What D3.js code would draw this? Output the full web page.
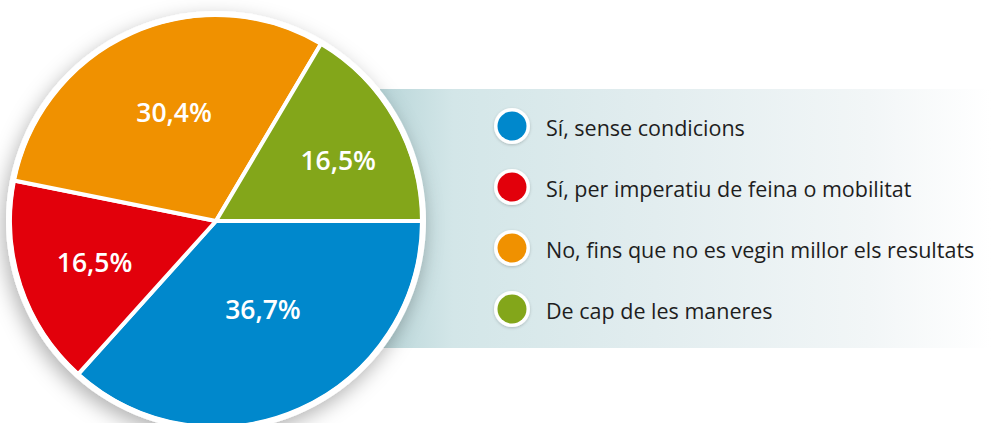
<!DOCTYPE html>
<html><head><meta charset="utf-8">
<script src="https://cdn.jsdelivr.net/npm/d3@7"></script>
<style>html,body{margin:0;padding:0;background:#fff;overflow:hidden}</style>
</head><body>
<svg id="chart" width="991" height="423"></svg>
<script>
const categories = ["Sí, sense condicions","Sí, per imperatiu de feina o mobilitat","No, fins que no es vegin millor els resultats","De cap de les maneres"];
const values = [36.7, 16.5, 30.4, 16.5];
const labels = ["36,7%","16,5%","30,4%","16,5%"];
const colors = ["#0088cc","#e2000b","#f09100","#83a61a"];

const svg = d3.select("#chart");
const defs = svg.append("defs");
const grad = defs.append("linearGradient").attr("id","panelGrad").attr("x1","0%").attr("x2","100%");
[[0,"#b9d6d9"],[0.12,"#d3e6e8"],[0.45,"#e2edef"],[0.8,"#f2f6f7"],[1,"#ffffff"]].forEach(([o,c])=>grad.append("stop").attr("offset",o).attr("stop-color",c));
const sh = defs.append("filter").attr("id","pieShadow").attr("x","-20%").attr("y","-20%").attr("width","140%").attr("height","140%");
sh.append("feDropShadow").attr("dx",-3).attr("dy",7).attr("stdDeviation",10).attr("flood-color","#000").attr("flood-opacity",0.3);
const sh2 = defs.append("filter").attr("id","dotShadow").attr("x","-50%").attr("y","-50%").attr("width","200%").attr("height","200%");
sh2.append("feDropShadow").attr("dx",0).attr("dy",1).attr("stdDeviation",1.5).attr("flood-color","#000").attr("flood-opacity",0.2);

// panel
svg.append("rect").attr("x",380).attr("y",89).attr("width",611).attr("height",259).attr("fill","url(#panelGrad)");

const cx = 216, cy = 221, r = 206;
const g = svg.append("g").attr("transform",`translate(${cx},${cy})`);
g.append("circle").attr("r",r+4).attr("fill","#fff").attr("filter","url(#pieShadow)");

const pie = d3.pie().sort(null).value(d=>d).startAngle(Math.PI/2).endAngle(Math.PI/2+2*Math.PI);
const arcs = pie(values);
const arc = d3.arc().innerRadius(0).outerRadius(r);
g.selectAll("path.slice").data(arcs).enter().append("path")
  .attr("class","slice").attr("d",arc).attr("fill",(d,i)=>colors[i])
  .attr("stroke","#fff").attr("stroke-width",4).attr("stroke-linejoin","round");
g.append("circle").attr("r",r+1).attr("fill","none").attr("stroke","#fff").attr("stroke-width",5);

const labelArc = d3.arc().innerRadius(r*0.56).outerRadius(r*0.56);
const lblOff = [[0,-17],[-12,5],[5,-4],[22,-4]];
g.selectAll("text.lbl").data(arcs).enter().append("text")
  .attr("class","lbl")
  .attr("x",(d,i)=>labelArc.centroid(d)[0]+lblOff[i][0])
  .attr("y",(d,i)=>labelArc.centroid(d)[1]+lblOff[i][1])
  .attr("text-anchor","middle").attr("dominant-baseline","central")
  .attr("fill","#fff").attr("font-family","'Open Sans', sans-serif").attr("font-weight","600").attr("font-size",26.5)
  .text((d,i)=>labels[i]);

// legend
const ly = d3.scalePoint().domain(d3.range(categories.length)).range([126,309]);
const leg = svg.append("g");
const items = leg.selectAll("g").data(categories).enter().append("g")
  .attr("transform",(d,i)=>`translate(512,${ly(i)})`);
items.append("circle").attr("r",18).attr("fill","#fff").attr("filter","url(#dotShadow)");
items.append("circle").attr("r",14.5).attr("fill",(d,i)=>colors[i]);
items.append("text").attr("x",34).attr("y",1).attr("dominant-baseline","central")
  .attr("font-family","'Open Sans', sans-serif").attr("font-size",21.5).attr("fill","#1e1e1e")
  .text(d=>d);
</script>
</body></html>
